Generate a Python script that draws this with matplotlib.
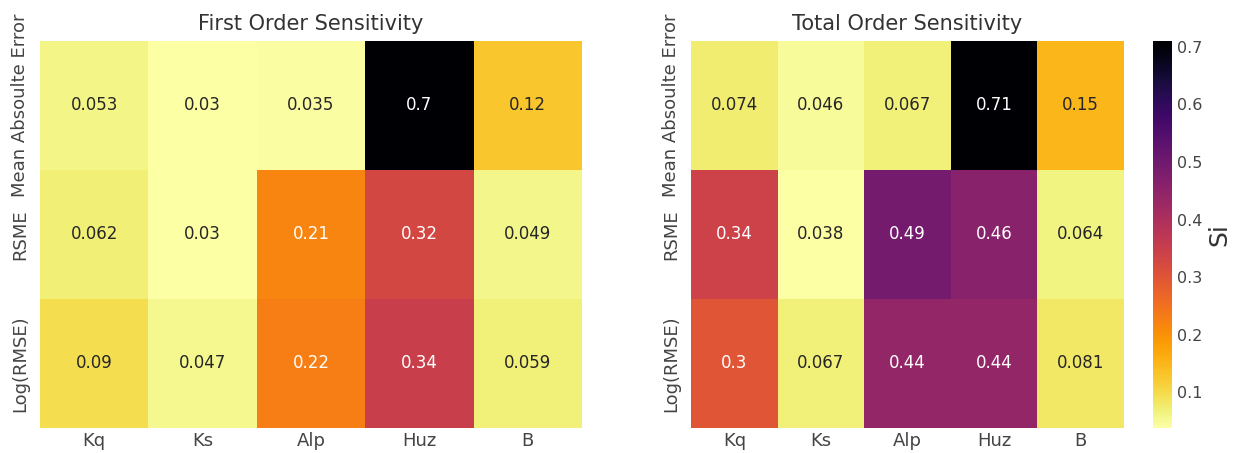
import matplotlib
matplotlib.use("Agg")
import matplotlib.pyplot as plt
import seaborn as sns
import numpy as np
import pandas as pd

sns.set_theme(style="white")
plt.rcParams['font.family'] = ['DejaVu Sans']

params = ["Kq", "Ks", "Alp", "Huz", "B"]
metrics = ["Mean Absoulte Error", "RSME", "Log(RMSE)"]

first_order = [
    [0.053, 0.03, 0.035, 0.7, 0.12],
    [0.062, 0.03, 0.21, 0.32, 0.049],
    [0.09, 0.047, 0.22, 0.34, 0.059],
]
total_order = [
    [0.074, 0.046, 0.067, 0.71, 0.15],
    [0.34, 0.038, 0.49, 0.46, 0.064],
    [0.3, 0.067, 0.44, 0.44, 0.081],
]

df_first = pd.DataFrame(first_order, index=metrics, columns=params)
df_total = pd.DataFrame(total_order, index=metrics, columns=params)

fig = plt.figure(figsize=(12.4, 4.53), dpi=100)
ax1 = fig.add_axes([0.0323, 0.0552, 0.4371, 0.8543])
ax2 = fig.add_axes([0.5573, 0.0552, 0.3492, 0.8543])
cax = fig.add_axes([0.9298, 0.0552, 0.0153, 0.8543])

sns.heatmap(df_first, ax=ax1, cmap="inferno_r", annot=True, cbar=False,
            annot_kws={"size": 12})
sns.heatmap(df_total, ax=ax2, cmap="inferno_r", annot=True, cbar_ax=cax,
            annot_kws={"size": 12})

for ax, title in [(ax1, "First Order Sensitivity"), (ax2, "Total Order Sensitivity")]:
    ax.set_title(title, fontsize=15, color="#333333", pad=8)
    ax.tick_params(axis="x", labelsize=13, colors="#444444", length=0, pad=3)
    ax.tick_params(axis="y", labelsize=13, colors="#444444", length=0, pad=8)
    for lbl in ax.get_yticklabels():
        lbl.set_rotation(90)
        lbl.set_va("center")

cbar = ax2.collections[0].colorbar
cbar.ax.tick_params(labelsize=11.5, colors="#444444", length=0)
cbar.set_label("Si", fontsize=18, color="#333333")
cbar.outline.set_visible(False)

fig.savefig("out.png", dpi=100)
